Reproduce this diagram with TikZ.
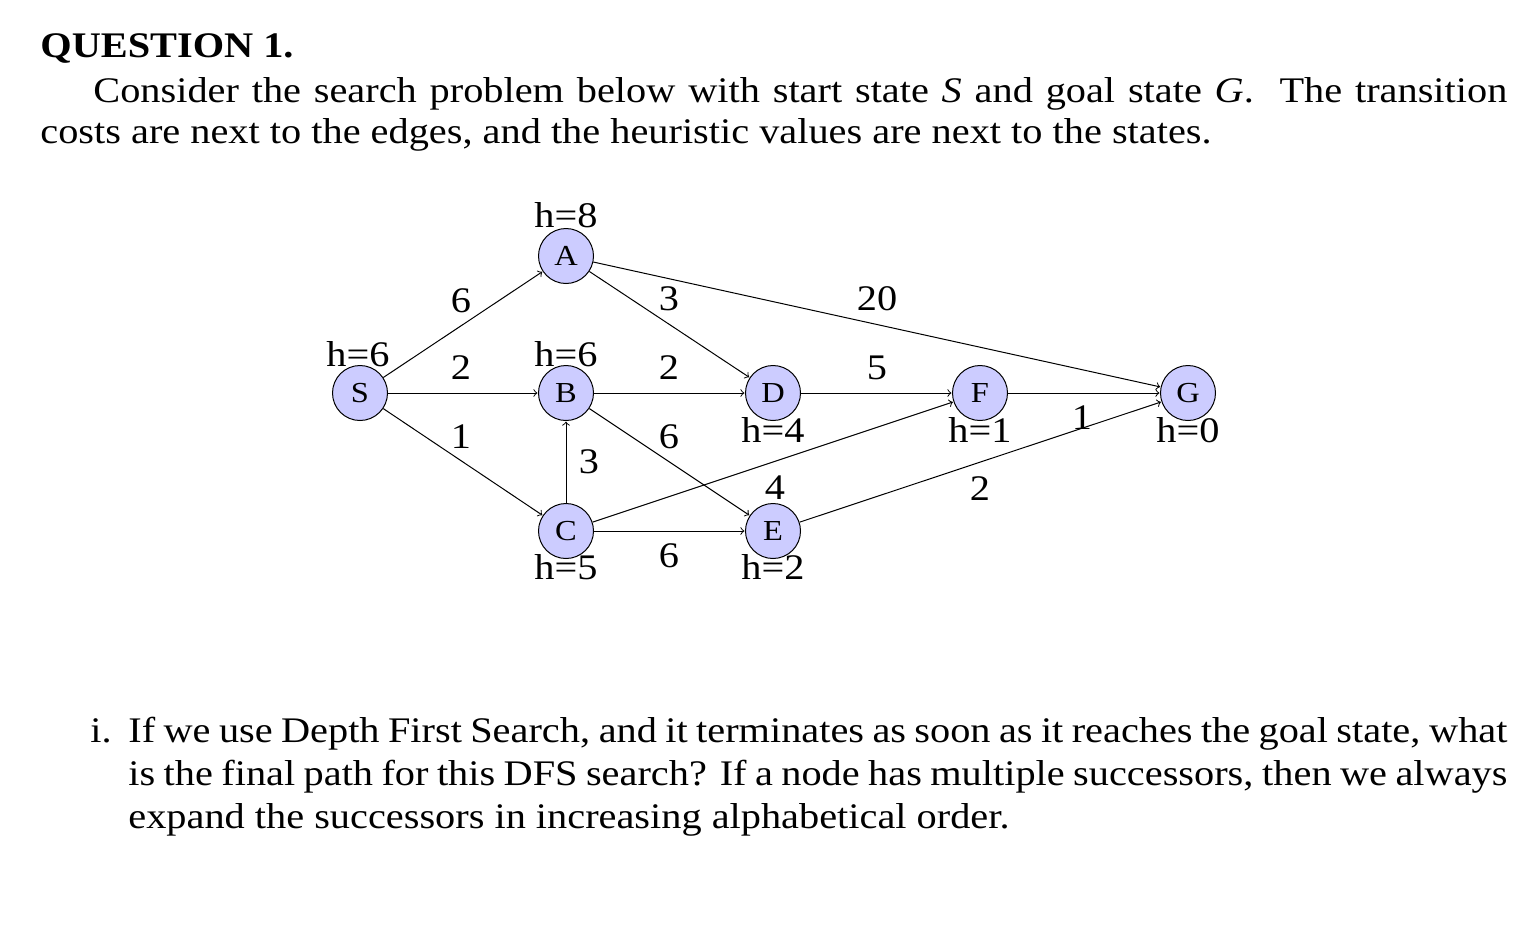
\documentclass[tikz,border=0pt]{standalone}
\usepackage{fontspec}
\setmainfont{Liberation Serif}[FakeStretch=1.12]
\begin{document}
\begin{tikzpicture}[x=0.5pt,y=-0.5pt,
  st/.style={circle,draw,line width=0.5pt,fill=blue!20,minimum size=27.5pt,inner sep=0pt,font=\fontsize{14.5}{15}\selectfont},
  lbl/.style={inner sep=0pt,font=\fontsize{18}{19}\selectfont},
  txt/.style={anchor=base west,inner sep=0pt,font=\fontsize{18}{19}\selectfont},
  edge/.style={->,line width=0.5pt,shorten >=0.3pt}]
\useasboundingbox (0,0) rectangle (1537,934);
% text
\node[txt,font=\fontsize{18}{19}\selectfont\bfseries] (q) at (40,57) {QUESTION 1.};
\node[txt] (p1) at (93,102) {\hbox to 707pt{Consider the search problem below with start state \textit{S} and goal state \textit{G}. \ The transition}};
\node[txt] (p2) at (40,143) {costs are next to the edges, and the heuristic values are next to the states.};
\node[txt] (i) at (90,742) {i.};
\node[txt] (i1) at (128,742) {\hbox to 689.5pt{If we use Depth First Search, and it terminates as soon as it reaches the goal state, what}};
\node[txt] (i2) at (128,785) {\hbox to 689.5pt{is the final path for this DFS search? If a node has multiple successors, then we always}};
\node[txt] (i3) at (128,828) {expand the successors in increasing alphabetical order.};
% states
\node[st] (S) at (360,393) {S};
\node[st] (A) at (566,256) {A};
\node[st] (B) at (566,393) {B};
\node[st] (C) at (566,531) {C};
\node[st] (D) at (773,393) {D};
\node[st] (E) at (773,531) {E};
\node[st] (F) at (980,393) {F};
\node[st] (G) at (1188,393) {G};
% heuristics
\node[lbl] (hS) at (358,354) {h=6};
\node[lbl] (hA) at (566,215) {h=8};
\node[lbl] (hB) at (566,354) {h=6};
\node[lbl] (hC) at (566,567) {h=5};
\node[lbl] (hD) at (773,430) {h=4};
\node[lbl] (hE) at (773,567) {h=2};
\node[lbl] (hF) at (980,430) {h=1};
\node[lbl] (hG) at (1188,430) {h=0};
% edges
\draw[edge] (S) -- (A);
\draw[edge] (S) -- (B);
\draw[edge] (S) -- (C);
\draw[edge] (A) -- (D);
\draw[edge] (A) -- (G);
\draw[edge] (B) -- (D);
\draw[edge] (B) -- (E);
\draw[edge] (C) -- (B);
\draw[edge] (C) -- (E);
\draw[edge] (C) -- (F);
\draw[edge] (D) -- (F);
\draw[edge] (F) -- (G);
\draw[edge] (E) -- (G);
% costs
\node[lbl] (cSA) at (461,301) {6};
\node[lbl] (cSB) at (461,368) {2};
\node[lbl] (cSC) at (461,437) {1};
\node[lbl] (cAD) at (669,299) {3};
\node[lbl] (cAG) at (877,299) {20};
\node[lbl] (cBD) at (669,368) {2};
\node[lbl] (cBE) at (669,437) {6};
\node[lbl] (cCB) at (589,462) {3};
\node[lbl] (cCE) at (669,556) {6};
\node[lbl] (cCF) at (775,488) {4};
\node[lbl] (cDF) at (877,368) {5};
\node[lbl] (cFG) at (1082,418) {1};
\node[lbl] (cEG) at (980,489) {2};
\end{tikzpicture}
\end{document}
